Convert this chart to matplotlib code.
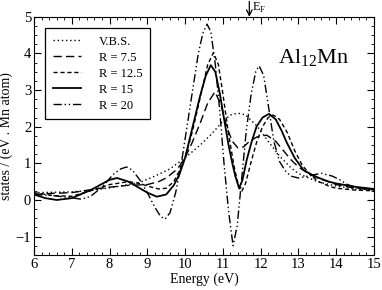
import matplotlib
matplotlib.use("Agg")
import matplotlib.pyplot as plt
from matplotlib.ticker import MultipleLocator

plt.rcParams["font.family"] = ["Liberation Serif", "DejaVu Serif"]
plt.rcParams["mathtext.fontset"] = "custom"
plt.rcParams["mathtext.rm"] = "Liberation Serif"

# ── Data ───────────────────────────────────────────────────────────────────
vbs_e = [6.0, 7.0, 7.5, 8.0, 8.5, 8.8, 9.2, 9.6, 10.0, 10.4, 10.7, 11.0, 11.2,
         11.4, 11.6, 11.9, 12.2, 12.5, 12.8, 13.0, 13.5, 14.0, 14.5, 15.0]
vbs_v = [0.2, 0.22, 0.26, 0.33, 0.42, 0.48, 0.65, 0.85, 1.15, 1.5, 1.8, 2.15,
         2.32, 2.37, 2.32, 2.02, 1.6, 1.2, 0.88, 0.72, 0.5, 0.38, 0.3, 0.28]

r75_e = [6.0, 6.5, 7.0, 7.5, 8.0, 8.5, 9.0, 9.3, 9.5, 9.8, 10.0, 10.2, 10.4,
         10.6, 10.79, 10.95, 11.1, 11.25, 11.4, 11.55, 11.7, 11.9, 12.16, 12.4,
         12.6, 12.8, 13.0, 13.3, 13.5, 13.8, 14.0, 14.5, 15.0]
r75_v = [0.15, 0.18, 0.2, 0.28, 0.35, 0.4, 0.42, 0.5, 0.6, 0.85, 1.15, 1.6, 2.1,
         2.65, 2.95, 2.6, 2.0, 1.6, 1.42, 1.45, 1.6, 1.72, 1.77, 1.6,
         1.35, 1.1, 0.9, 0.7, 0.6, 0.5, 0.42, 0.32, 0.28]

r125_e = [6.0, 6.5, 7.0, 7.5, 8.0, 8.5, 8.8, 9.0, 9.3, 9.5, 9.7, 9.85, 10.0,
          10.2, 10.4, 10.6, 10.75, 10.88, 11.0, 11.15, 11.3, 11.42, 11.5, 11.6,
          11.75, 11.9, 12.05, 12.2, 12.33, 12.5, 12.7, 12.9, 13.1, 13.3, 13.5,
          13.8, 14.0, 14.5, 15.0]
r125_v = [0.2, 0.12, 0.1, 0.25, 0.42, 0.5, 0.45, 0.38, 0.3, 0.32, 0.5, 0.8, 1.15,
          1.9, 2.8, 3.7, 4.02, 3.7, 2.9, 1.8, 0.9, 0.35, 0.23, 0.45,
          1.05, 1.6, 2.0, 2.25, 2.32, 2.2, 1.85, 1.35, 0.95, 0.7, 0.52,
          0.38, 0.32, 0.27, 0.25]

r15_e = [6.0, 6.3, 6.6, 7.0, 7.5, 8.0, 8.2, 8.5, 8.8, 9.0, 9.25, 9.5, 9.7, 9.85,
         10.0, 10.2, 10.4, 10.55, 10.68, 10.8, 10.92, 11.05, 11.15, 11.25, 11.33,
         11.43, 11.52, 11.63, 11.75, 11.89, 12.05, 12.22, 12.4, 12.55, 12.7,
         12.9, 13.13, 13.3, 13.5, 13.8, 14.0, 14.5, 15.0]
r15_v = [0.15, 0.05, 0.0, 0.05, 0.27, 0.55, 0.6, 0.5, 0.32, 0.2, 0.09, 0.15, 0.4,
         0.7, 1.15, 2.0, 2.85, 3.4, 3.68, 3.5, 2.9, 2.1, 1.5, 1.0, 0.65,
         0.32, 0.55, 1.09, 1.55, 2.0, 2.25, 2.35, 2.2, 1.9, 1.55,
         1.15, 0.82, 0.72, 0.62, 0.5, 0.45, 0.36, 0.3]

r20_e = [6.0, 6.5, 7.0, 7.25, 7.5, 7.8, 8.1, 8.3, 8.45, 8.6, 8.8, 9.0, 9.2, 9.35,
         9.47, 9.6, 9.75, 9.9, 10.05, 10.2, 10.35, 10.47, 10.58, 10.68, 10.8,
         10.92, 11.03, 11.15, 11.27, 11.38, 11.5, 11.62, 11.75, 11.87, 11.96,
         12.08, 12.2, 12.35, 12.5, 12.65, 12.8, 13.0, 13.25, 13.6, 13.9, 14.1,
         14.3, 14.6, 15.0]
r20_v = [0.15, 0.12, 0.06, 0.02, 0.1, 0.35, 0.7, 0.85, 0.9, 0.82, 0.55, 0.2,
         -0.2, -0.45, -0.52, -0.35, 0.2, 1.0, 2.0, 3.0, 4.0, 4.55, 4.8, 4.6, 3.7,
         2.4, 1.0, -0.3, -1.25, -0.7, 0.6, 1.9, 2.9, 3.5, 3.66,
         3.4, 2.6, 1.6, 1.05, 0.8, 0.65, 0.6, 0.65, 0.73, 0.65, 0.55,
         0.42, 0.32, 0.28]

E_FERMI = 11.7

# ── Plot ───────────────────────────────────────────────────────────────────
fig = plt.figure(figsize=(3.82, 2.90), dpi=100)
ax = fig.add_axes([0.089, 0.121, 0.890, 0.821])

ax.plot(vbs_e, vbs_v, color="black", lw=1.0, dashes=(1, 2), label="V.B.S.")
ax.plot(r75_e, r75_v, color="black", lw=1.0, dashes=(6, 3), label="R = 7.5")
ax.plot(r125_e, r125_v, color="black", lw=1.0, dashes=(3, 2), label="R = 12.5")
ax.plot(r15_e, r15_v, color="black", lw=1.3, label="R = 15")
ax.plot(r20_e, r20_v, color="black", lw=1.0, dashes=(6, 2, 1, 2, 1, 2),
        label="R = 20")

ax.set_xlim(6, 15)
ax.set_ylim(-1.5, 5)
ax.xaxis.set_major_locator(MultipleLocator(1))
ax.xaxis.set_minor_locator(MultipleLocator(0.2))
ax.yaxis.set_major_locator(MultipleLocator(1))
ax.yaxis.set_minor_locator(MultipleLocator(0.25))
ax.tick_params(which="both", direction="in", top=True, right=True,
               labelsize=10.5, pad=2)
ax.tick_params(which="major", length=5)
ax.tick_params(which="minor", length=2.5)

ax.set_xlabel("Energy (eV)", fontsize=10, labelpad=1)
ax.set_ylabel("states / (eV . Mn atom)", fontsize=10, labelpad=2)

ax.text(12.45, 3.72, r"Al$_{\mathregular{12}}$Mn", fontsize=16)

# Fermi level marker above the frame
ax.annotate("", xy=(E_FERMI, 5.0), xytext=(E_FERMI, 5.42),
            arrowprops=dict(arrowstyle="->", color="black", lw=0.9,
                            shrinkA=0, shrinkB=0),
            annotation_clip=False)
ax.text(E_FERMI + 0.08, 5.43, r"E$_{\mathregular{F}}$", fontsize=9,
        ha="left", va="top", clip_on=False)

leg = ax.legend(loc="upper left", fontsize=9, handlelength=2.3,
                fancybox=False, edgecolor="black", framealpha=1,
                borderaxespad=0.9, labelspacing=0.32, handletextpad=1.4,
                borderpad=0.6)
leg.get_frame().set_linewidth(0.9)

fig.savefig("out.png", dpi=100)
